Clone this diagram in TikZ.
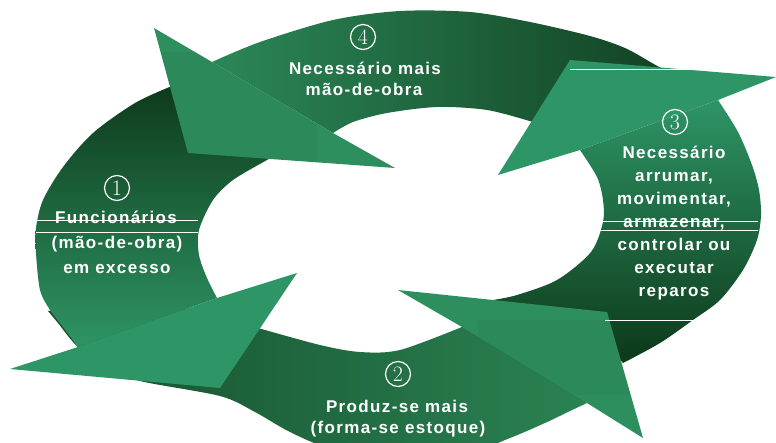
\documentclass[tikz,border=0pt]{standalone}
\usepackage{fontspec}
\newfontfamily\labelfont{Liberation Sans}[LetterSpace=8]
% band colours
\definecolor{bandAtop}{HTML}{0D391A}
\definecolor{bandAmid}{HTML}{1F6A40}
\definecolor{bandAbot}{HTML}{2E9463}
\definecolor{bandBleft}{HTML}{174F2C}
\definecolor{bandBright}{HTML}{2A8253}
\definecolor{bandCtop}{HTML}{2E9566}
\definecolor{bandCmid}{HTML}{207049}
\definecolor{bandCbot}{HTML}{0C3818}
\definecolor{bandDleft}{HTML}{2B8757}
\definecolor{bandDmid}{HTML}{1F673E}
\definecolor{bandDright}{HTML}{123F21}
\definecolor{headSolid}{HTML}{2E9566}
\definecolor{headHatch}{HTML}{2E8F5E}
\begin{document}
\begin{tikzpicture}[x=1pt,y=-1pt,
  lbl/.style={text=white, font=\labelfont\bfseries\fontsize{17}{17}\selectfont, inner sep=0pt, anchor=base},
  num/.style={circle, draw=white, line width=1.2pt, minimum size=25pt, inner sep=0pt, text=white, font=\fontsize{22}{22}\selectfont},
  seam/.style={draw=white, line width=1pt}]
\useasboundingbox (0,0) rectangle (776,442);

% ---- curved bands (tails lie under the heads drawn later) ----
% band 2: bottom
\path[left color=bandBleft, right color=bandBright]
  plot[smooth] coordinates {(48,311) (58,323) (78,347) (110,368) (140,381) (220,396) (255,412) (290,432) (330,448) (400,458) (470,452) (510,438) (545,423) (570,411) (587,403)}
  -- (540,350)
  -- plot[smooth] coordinates {(462,327) (400,350) (360,352) (320,345) (258,328)}
  -- (200,310) -- (120,300) -- cycle;

% band 3: right
\path[top color=bandCtop, middle color=bandCmid, bottom color=bandCbot]
  plot[smooth] coordinates {(623,363) (660,343) (693,320) (720,300) (743,270) (757,240) (761,215) (759,190) (752,165) (738,132) (718,100)}
  -- (580,150)
  -- plot[smooth] coordinates {(580,150) (597,177) (603,200) (603,222) (591,252) (557,280) (517,295) (493,300)}
  -- (470,310) -- (560,345) -- (612,350) -- cycle;

% band 4: top
\path[left color=bandDleft, middle color=bandDmid, right color=bandDright]
  plot[smooth] coordinates {(212,62) (260,42) (333,20) (400,11) (470,12) (530,22) (590,36) (625,48) (652,63) (675,76)}
  -- (690,85) -- (600,120)
  -- plot[smooth] coordinates {(550,128) (533,122) (487,110) (437,107) (387,113) (353,122) (333,133)}
  -- cycle;

% band 1: left
\path[top color=bandAtop, middle color=bandAmid, bottom color=bandAbot]
  plot[smooth] coordinates {(285,150) (267,160) (233,180) (213,200) (199,230) (199,255) (207,278) (217,298)}
  -- (78,347)
  -- plot[smooth] coordinates {(78,347) (63,327) (50,310) (40,290) (36,253) (36,228) (43,200) (63,167) (93,133) (135,103) (172,86)}
  -- (200,80) -- cycle;

% ---- arrow heads ----
\fill[headSolid] (217,298) -- (297,273) -- (220,388) -- (10,369) -- (78,347) -- cycle;
\begin{scope}
  \path[clip] (462,327) -- (398,290) -- (607,312) -- (643,438) -- (587,403) -- cycle;
  \fill[headHatch] (390,285) rectangle (650,442);
  \fill[black, opacity=0.035] (478,320) rectangle (650,395);
\end{scope}
\fill[headSolid] (580,150) -- (498,175) -- (570,60) -- (776,77) -- (718,100) -- cycle;
\begin{scope}
  \path[clip] (212,62) -- (154,28) -- (188,153) -- (395,168) -- (333,133) -- cycle;
  \fill[headHatch] (150,25) rectangle (400,170);
  \fill[black, opacity=0.035] (150,52) rectangle (317,165);
\end{scope}

% ---- thin white seams ----
\draw[seam] (570,69) -- (776,69);
\draw[seam] (37,220) -- (198,220);
\draw[seam] (36,232) -- (198,232);
\draw[seam] (600,221) -- (758,221);
\draw[seam] (600,230) -- (758,230);
\draw[seam] (605,320) -- (694,320);

% ---- step numbers ----
\node[num] (n1) at (117,188) {1};
\node[num] (n2) at (398,374) {2};
\node[num] (n3) at (675,122) {3};
\node[num] (n4) at (363,37) {4};

% ---- labels ----
\node[lbl] (t4a) at (365,74) {Necessário mais};
\node[lbl] (t4b) at (364,95) {mão-de-obra};

\node[lbl] (t1a) at (116,223) {Funcionários};
\node[lbl] (t1b) at (117,248) {(mão-de-obra)};
\node[lbl] (t1c) at (117,273) {em excesso};

\node[lbl] (t3a) at (674,158) {Necessário};
\node[lbl] (t3b) at (674,181) {arrumar,};
\node[lbl] (t3c) at (674,204) {movimentar,};
\node[lbl] (t3d) at (674,227) {armazenar,};
\node[lbl] (t3e) at (674,250) {controlar ou};
\node[lbl] (t3f) at (674,273) {executar};
\node[lbl] (t3g) at (674,296) {reparos};

\node[lbl] (t2a) at (397,412) {Produz-se mais};
\node[lbl] (t2b) at (398,433) {(forma-se estoque)};
\end{tikzpicture}
\end{document}
